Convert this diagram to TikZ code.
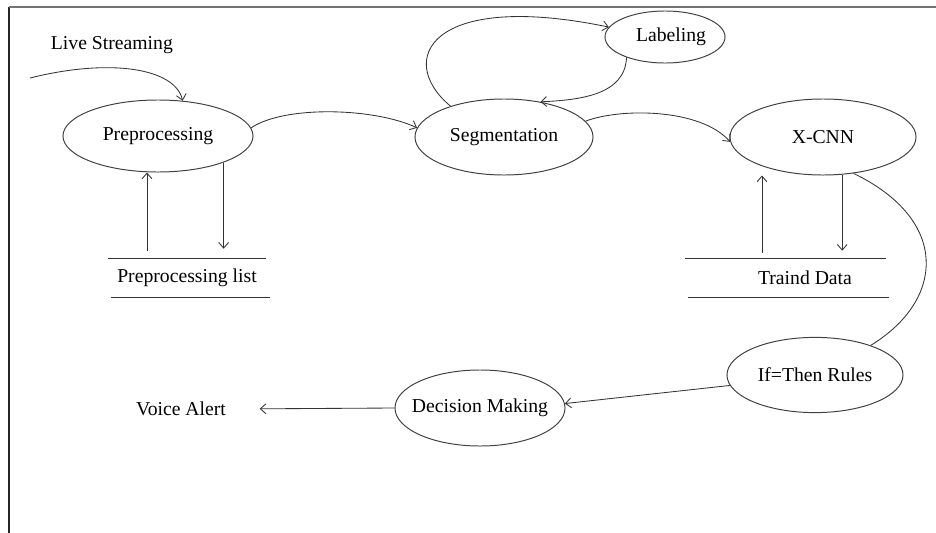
\documentclass[tikz,border=0pt]{standalone}
\usepackage{fontspec}
\setmainfont{Liberation Serif}
\usetikzlibrary{arrows.meta, positioning, shapes.geometric, calc}

\tikzset{
  proc/.style={ellipse, draw=black!75, line width=0.7pt, inner sep=0pt},
  store/.style={inner sep=0pt, minimum height=0.95cm},
  arr/.style={draw=black!80, line width=0.6pt, -{Straight Barb[length=4pt,width=7pt]}},
  link/.style={draw=black!80, line width=0.6pt}
}

\begin{document}
\begin{tikzpicture}[x=0.025cm, y=-0.025cm, font=\fontsize{14}{16}\selectfont]
\useasboundingbox (0,0) rectangle (936,533);

% frame
\draw[black!85, line width=1pt] (9,533) -- (9,7);
\draw[black!55, line width=0.8pt] (9,7) -- (936,7);

\node[anchor=west] (live) at (46,45) {Live Streaming};
\coordinate (livein) at (30,78);

\node[proc, minimum width=4.75cm, minimum height=1.8cm] (pre) at (158,136) {Preprocessing};
\node[proc, minimum width=4.45cm, minimum height=1.9cm] (seg) at (504,137) {Segmentation};
\node[proc, minimum width=3cm, minimum height=1.3cm] (lab) at (665,37) {\hspace*{0.3cm}Labeling};
\node[proc, minimum width=4.65cm, minimum height=1.9cm] (xcnn) at (823,137) {X-CNN};
\node[proc, minimum width=4.4cm, minimum height=1.88cm] (rules) at (815,375) {If=Then Rules};
\node[proc, inner xsep=-0.2cm, minimum width=4.25cm, minimum height=1.9cm] (dec) at (480,408) {Decision Making};
\node (voice) at (181,409) {Voice Alert};

% data stores
\node[store, minimum width=3.95cm] (plist) at (187,278) {Preprocessing list};
\draw[link] (plist.north west) -- (plist.north east);
\draw[link] ([xshift=0.08cm]plist.south west) -- ([xshift=0.08cm]plist.south east);

\node[store, minimum width=5cm] (td) at (805,278) {Traind Data};
\draw[link] ([xshift=-0.48cm]td.north west) -- ([xshift=-0.48cm]td.north east);
\draw[link] ([xshift=-0.42cm]td.south west) -- ([xshift=-0.42cm]td.south east);

% flows
\draw[arr] (livein) .. controls (110,58) and (175,68) .. (pre.55);
\draw[arr] (pre.5) .. controls (285,105) and (375,108) .. (seg.174);
\draw[arr] (seg.150) .. controls (395,60) and (430,-10) .. (lab.170);
\draw[arr] (lab.208) .. controls (625,95) and (580,100) .. (seg.44);
\draw[arr] (seg.11) .. controls (620,108) and (700,108) .. (xcnn.183);
\draw[link] (xcnn.-50) .. controls (950,220) and (945,300) .. (rules.28);
\draw[arr] (rules.187) -- (dec.3);
\draw[arr, shorten >=0.72cm] (dec.west) -- (voice.east);

\coordinate (pl-up) at ([xshift=-1cm,yshift=0.2cm]plist.north);
\coordinate (pl-dn) at ([xshift=0.925cm,yshift=0.25cm]plist.north);
\draw[arr] (pl-up) -- (pl-up |- pre.south);
\draw[arr] (pre.-22) -- (pre.-22 |- pl-dn);

\coordinate (td-up) at ([xshift=-1.075cm,yshift=0.15cm]td.north);
\coordinate (td-dn) at ([xshift=0.925cm,yshift=0.2cm]td.north);
\draw[arr] (td-up) -- (td-up |- xcnn.south);
\draw[arr] (xcnn.-63) -- (xcnn.-63 |- td-dn);
\end{tikzpicture}
\end{document}
